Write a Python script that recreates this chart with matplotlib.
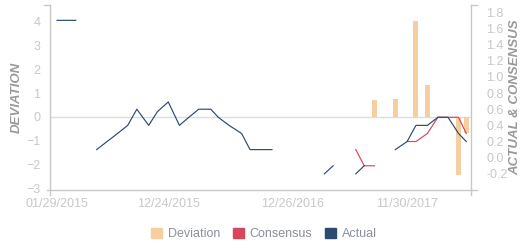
import numpy as np
import matplotlib
matplotlib.use("Agg")
from matplotlib import pyplot as plt
import matplotlib.dates as mdates
from matplotlib.patches import Patch

# datos mensuales (nan = sin dato)
fechas = ["2015-01-29", "2015-02-26", "2015-03-25", "2015-04-27", "2015-05-26",
          "2015-06-26", "2015-07-27", "2015-08-26", "2015-09-22", "2015-10-27",
          "2015-11-22", "2015-12-24", "2016-01-26", "2016-02-23", "2016-03-23",
          "2016-04-28", "2016-05-20", "2016-06-21", "2016-07-28", "2016-08-22",
          "2016-09-23", "2016-10-26", "2016-11-25", "2016-12-26", "2017-01-26",
          "2017-02-27", "2017-03-30", "2017-04-25", "2017-05-30", "2017-07-01",
          "2017-07-26", "2017-08-25", "2017-09-26", "2017-10-26", "2017-11-30",
          "2017-12-26", "2018-01-29", "2018-03-01", "2018-03-31", "2018-05-01",
          "2018-05-24"]
nan = np.nan
actual = [1.7, 1.7, 1.7, nan, 0.1,
          0.2, 0.3, 0.4, 0.6, 0.4,
          0.57, 0.69, 0.4, 0.5, 0.6,
          0.6, 0.5, 0.4, 0.3, 0.1,
          0.1, 0.1, nan, nan, nan,
          nan, -0.2, -0.1, nan, -0.2,
          -0.1, nan, nan, 0.1, 0.2,
          0.4, 0.4, 0.5, 0.5, 0.3,
          0.2]
consenso = [nan] * 29 + [0.1, -0.1, -0.1, nan, nan, 0.2, 0.2, 0.3, 0.5, 0.5, 0.5, 0.3]
desviacion = [0] * 31 + [0.71, 0, 0.76, 0, 4.03, 1.34, 0, 0, -2.44, -0.69]

etiquetas_x = ["01/29/2015", "12/24/2015", "12/26/2016", "11/30/2017"]
fechas_etiquetas = ["2015-01-29", "2015-12-24", "2016-12-26", "2017-11-30"]

col_dev = "#f5cfa0"
col_cons = "#d6475b"
col_act = "#2d4a6f"
gris = "#c8c8c8"
gris_txt = "#8a8f99"

plt.rcParams["font.family"] = ["Liberation Sans", "DejaVu Sans"]

x = mdates.datestr2num(fechas)

fig = plt.figure(figsize=(5.31, 2.5), dpi=100)
ax = fig.add_axes([50 / 531, 60 / 250, 421 / 531, 185 / 250])
ax2 = ax.twinx()

ax.bar(x, desviacion, width=14.8, color=col_dev, zorder=2)
ax.axhline(0, color="#dddddd", lw=1, zorder=1)
ax2.plot(x, consenso, color=col_cons, lw=0.85)
ax2.plot(x, actual, color=col_act, lw=0.85)

ax.set_xlim(mdates.datestr2num("2015-01-08"), mdates.datestr2num("2018-06-07"))
ax.set_ylim(-3.07, 4.71)
ax2.set_ylim(-0.40, 1.89)

ax.set_yticks(range(-3, 5))
ax2.set_yticks(np.arange(-0.2, 1.81, 0.2))
ax2.set_yticklabels(["%.1f" % v for v in np.arange(-0.2, 1.81, 0.2)])
ax.set_xticks(mdates.datestr2num(fechas_etiquetas))
ax.set_xticklabels(etiquetas_x)

ax.tick_params(axis="y", length=0, pad=7, labelsize=9, labelcolor=gris)
ax2.tick_params(axis="y", length=0, pad=11, labelsize=9, labelcolor=gris)
ax.tick_params(axis="x", length=0, pad=6, labelsize=9, labelcolor=gris)

for a in (ax, ax2):
    a.spines["top"].set_visible(False)
    for s in ("left", "right", "bottom"):
        a.spines[s].set_color(gris)
        a.spines[s].set_linewidth(1)
ax.spines["right"].set_visible(False)
ax2.spines["left"].set_visible(False)
ax2.spines["bottom"].set_visible(False)

# marcas en los extremos de los ejes
dx = 6 / 421
dy = 5 / 185
for xs, ys in [([-dx, 0], [1, 1]), ([0, 0], [0, -dy]), ([-dx * 0.5, 0], [0, 0]),
               ([1, 1 + dx], [1, 1]), ([1, 1], [0, -dy]), ([1, 1 + dx], [0, 0])]:
    ax.plot(xs, ys, color=gris, lw=1, transform=ax.transAxes, clip_on=False)

fig.text(17 / 531, 1 - 97 / 250, "DEVIATION", rotation=90, ha="center", va="center",
         fontsize=9.5, fontstyle="italic", fontweight="bold", color="#999999")
fig.text(515 / 531, 1 - 97.5 / 250, "ACTUAL & CONSENSUS", rotation=90, ha="center",
         va="center", fontsize=9.5, fontstyle="italic", fontweight="bold", color="#999999")

handles = [Patch(color=col_dev, label="Deviation"),
           Patch(color=col_cons, label="Consensus"),
           Patch(color=col_act, label="Actual")]
leg = fig.legend(handles=handles, loc="center", bbox_to_anchor=(264 / 531, 16 / 250),
                 ncol=3, frameon=False, fontsize=9, handlelength=0.85, handleheight=0.85,
                 handletextpad=0.5, columnspacing=1.0)
for t in leg.get_texts():
    t.set_color(gris_txt)

fig.savefig("out.png", dpi=100)
